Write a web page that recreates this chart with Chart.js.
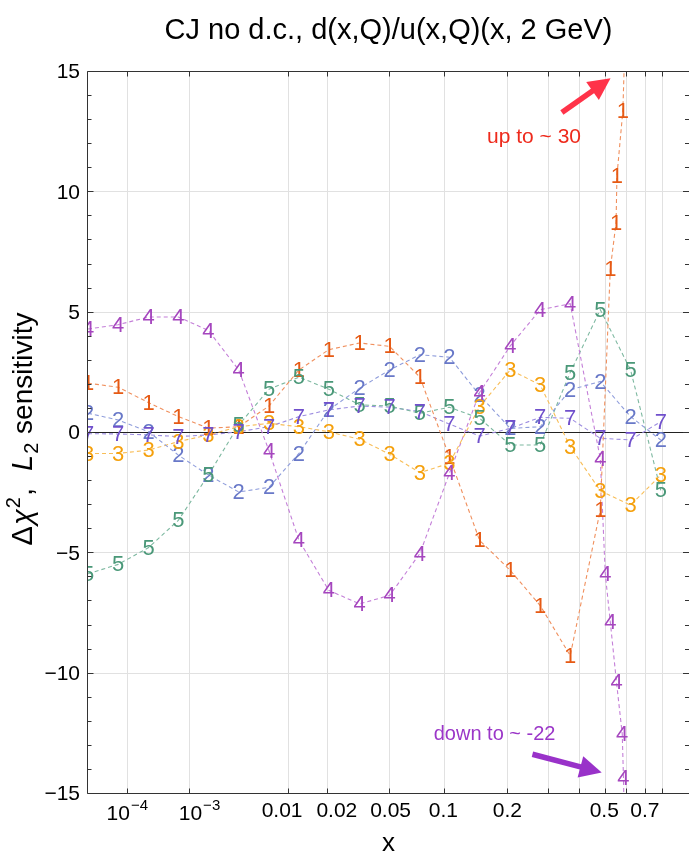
<!DOCTYPE html>
<html>
<head>
<meta charset="utf-8">
<script src="https://cdn.jsdelivr.net/npm/chart.js@4.4.0/dist/chart.umd.min.js"></script>
<style>
  html, body { margin: 0; padding: 0; background: #fff; overflow: hidden; }
</style>
</head>
<body>
<canvas id="miGrafica" width="689" height="853"></canvas>
<script>
// ---- datos ----
var titulo = 'CJ no d.c., d(x,Q)/u(x,Q)(x, 2 GeV)';

// puntos x del barrido (comunes a todas las curvas)
var xScan = [1e-5, 6.4e-5, 2.5e-4, 7.1e-4, 1.7e-3, 3.6e-3, 6.9e-3, 0.0122, 0.0203, 0.0327,
             0.05, 0.0742, 0.106, 0.149, 0.206, 0.277, 0.367, 0.479, 0.618, 0.787];
// puntos extra cerca de x~0.5 de las curvas 1 y 4
var xExtra1 = [0.522, 0.548, 0.552, 0.58, 0.64];
var xExtra4 = [0.5, 0.522, 0.55, 0.577, 0.583, 0.6];

var s1 = [2.05, 1.88, 1.24, 0.66, 0.18, 0.24, 1.10, 2.60, 3.44, 3.72, 3.58, 2.30, -1.01, -4.48, -5.73, -7.19, -9.27, -3.23,
          6.8, 8.72, 10.66, 13.37, 30];
var s2 = [0.80, 0.52, 0.03, -0.94, -1.77, -2.47, -2.28, -0.87, 0.94, 1.84, 2.60, 3.23, 3.13, 1.55, 0.17, 0.24, 1.77, 2.12, 0.66, -0.31];
var s3 = [-0.87, -0.87, -0.73, -0.38, -0.10, 0.24, 0.38, 0.24, 0.03, -0.28, -0.90, -1.67, -1.28, 1.08, 2.60, 1.98, -0.59, -2.42, -3.02, -1.77];
var s4 = [4.30, 4.48, 4.80, 4.80, 4.24, 2.60, -0.76, -4.48, -6.56, -7.12, -6.77, -5.03, -1.70, 1.66, 3.60, 5.10, 5.35, -1.08,
          -5.87, -7.88, -10.38, -12.53, -14.37, -22];
var s5 = [-5.87, -5.48, -4.78, -3.65, -1.77, 0.31, 1.80, 2.30, 1.80, 1.15, 1.10, 0.80, 1.05, 0.59, -0.52, -0.52, 2.49, 5.10, 2.60, -2.40];
var s7 = [-0.05, -0.06, -0.10, -0.17, -0.10, 0.03, 0.24, 0.66, 0.94, 1.10, 1.05, 0.87, 0.35, -0.15, 0.17, 0.63, 0.59, -0.24, -0.31, 0.45];

var x1 = xScan.slice(0, 18).concat(xExtra1);
var x4 = xScan.slice(0, 18).concat(xExtra4);

// ejes
var xTicks = [1e-4, 1e-3, 0.01, 0.02, 0.05, 0.1, 0.2, 0.3, 0.4, 0.5, 0.6, 0.7, 0.8];
var xTickLabels = ['10^-4', '10^-3', '0.01', '0.02', '0.05', '0.1', '0.2', '', '', '0.5', '', '0.7', ''];
var xLabelShift = [0, 10, -6, 9, 1, -1, 0, 0, 0, -1, 0, -1, 0];   // la figura separa 0.01 / 0.02
var yTicks = [-15, -10, -5, 0, 5, 10, 15];
var yTickLabels = ['\u221215', '\u221210', '\u22125', '0', '5', '10', '15'];

// anotaciones (en unidades de datos)
var notaArriba = { texto: 'up to ~ 30', x: 0.261, y: 12.25, desdeX: 0.340, desdeY: 13.3, hastaX: 0.523, hastaY: 14.72 };
var notaAbajo = { texto: 'down to ~ -22', x: 0.175, y: -12.56, desdeX: 0.257, desdeY: -13.37, hastaX: 0.485, hastaY: -14.13 };

// eje x en escala x^0.2
var POT = 0.2;
function tx(v) { return Math.pow(v, POT); }
function puntos(xs, ys) { return xs.map(function (x, i) { return { x: tx(x), y: ys[i] }; }); }

var FUENTE = '"Liberation Sans", Arial, Helvetica, sans-serif';

function serie(nombre, xs, ys, texto, linea) {
  return {
    label: nombre,
    data: puntos(xs, ys),
    borderColor: linea,
    textColor: texto,
    borderWidth: 1.1,
    borderDash: [4, 3],
    pointRadius: 0,
    fill: false,
    tension: 0
  };
}

// numeros de cada curva encima de sus puntos
var etiquetas = {
  id: 'etiquetas',
  afterDatasetsDraw: function (chart) {
    var c = chart.ctx, a = chart.chartArea;
    c.save();
    c.beginPath();
    c.rect(a.left, a.top, a.right - a.left, a.bottom - a.top);
    c.clip();
    c.font = '22px ' + FUENTE;
    c.textAlign = 'center';
    c.textBaseline = 'middle';
    chart.data.datasets.forEach(function (ds, i) {
      var meta = chart.getDatasetMeta(i);
      c.fillStyle = ds.textColor;
      meta.data.forEach(function (p) { c.fillText(ds.label, p.x, p.y + 1); });
    });
    c.restore();
  }
};

function flecha(c, x0, y0, x1, y1, color) {
  var ang = Math.atan2(y1 - y0, x1 - x0);
  var largo = 22, medio = 11;
  var bx = x1 - largo * Math.cos(ang), by = y1 - largo * Math.sin(ang);
  c.save();
  c.strokeStyle = color;
  c.fillStyle = color;
  c.lineWidth = 5.5;
  c.beginPath();
  c.moveTo(x0, y0);
  c.lineTo(bx + 2 * Math.cos(ang), by + 2 * Math.sin(ang));
  c.stroke();
  c.beginPath();
  c.moveTo(x1, y1);
  c.lineTo(bx + medio * Math.sin(ang), by - medio * Math.cos(ang));
  c.lineTo(bx - medio * Math.sin(ang), by + medio * Math.cos(ang));
  c.closePath();
  c.fill();
  c.restore();
}

var ejes = {
  id: 'ejes',
  beforeDatasetsDraw: function (chart) {
    var c = chart.ctx, a = chart.chartArea, ys = chart.scales.y;
    var y0 = Math.floor(ys.getPixelForValue(0)) + 0.5;
    c.save();
    c.strokeStyle = '#222';
    c.lineWidth = 1;
    c.beginPath();
    c.moveTo(a.left, y0);
    c.lineTo(a.right, y0);
    c.stroke();
    c.restore();
  },
  afterDraw: function (chart) {
    var c = chart.ctx, a = chart.chartArea, xs = chart.scales.x, ys = chart.scales.y;
    c.save();
    // marco
    c.strokeStyle = '#333';
    c.lineWidth = 1;
    var L = Math.floor(a.left) - 0.5, T = Math.floor(a.top) + 0.5, B = Math.floor(a.bottom) + 0.5, R = a.right;
    c.beginPath();
    c.moveTo(L, T); c.lineTo(R + 2, T);
    c.moveTo(L, B); c.lineTo(R + 2, B);
    c.moveTo(L, T); c.lineTo(L, B);
    c.stroke();
    // marcas x arriba y abajo
    c.beginPath();
    xTicks.forEach(function (v) {
      var p = Math.round(xs.getPixelForValue(tx(v)) - 0.5) + 0.5;
      c.moveTo(p, T); c.lineTo(p, T + 5);
      c.moveTo(p, B); c.lineTo(p, B - 5);
    });
    // marcas y izquierda y derecha
    for (var v = -15; v <= 15; v++) {
      var p = Math.round(ys.getPixelForValue(v) - 0.5) + 0.5;
      var l = (v % 5 === 0) ? 6 : 4;
      c.moveTo(L, p); c.lineTo(L + l, p);
      c.moveTo(R, p); c.lineTo(R - l, p);
    }
    c.stroke();

    // etiquetas eje y
    c.fillStyle = '#000';
    c.font = '21px ' + FUENTE;
    c.textAlign = 'right';
    c.textBaseline = 'middle';
    yTicks.forEach(function (v, i) {
      c.fillText(yTickLabels[i], 80, ys.getPixelForValue(v) + 1);
    });

    // etiquetas eje x
    xTicks.forEach(function (v, i) {
      var lab = xTickLabels[i];
      if (!lab) return;
      var p = xs.getPixelForValue(tx(v)) + xLabelShift[i];
      c.textBaseline = 'alphabetic';
      if (lab.indexOf('^') > 0) {
        var base = lab.split('^')[0], exp = lab.split('^')[1].replace('-', '\u2212');
        c.font = '21px ' + FUENTE;
        var w1 = c.measureText(base).width;
        c.font = '15px ' + FUENTE;
        var w2 = c.measureText(exp).width;
        var x0 = p - (w1 + w2 + 1) / 2;
        c.textAlign = 'left';
        c.font = '21px ' + FUENTE;
        c.fillText(base, x0, 820);
        c.font = '15px ' + FUENTE;
        c.fillText(exp, x0 + w1 + 1, 810);
      } else {
        c.textAlign = 'center';
        c.font = '21px ' + FUENTE;
        c.fillText(lab, p, 817);
      }
    });

    // titulo eje x
    c.font = '26px ' + FUENTE;
    c.textAlign = 'center';
    c.textBaseline = 'alphabetic';
    c.fillText('x', (a.left + a.right) / 2, 851);

    // titulo eje y (rotado)
    var trozos = [
      { t: '\u0394', f: '29px ' + FUENTE, dy: 0 },
      { t: '\u03C7', f: 'italic 29px ' + FUENTE, dy: 0 },
      { t: '2', f: '20px ' + FUENTE, dy: -12 },
      { t: ',  ', f: '29px ' + FUENTE, dy: 0 },
      { t: 'L', f: 'italic 29px ' + FUENTE, dy: 0 },
      { t: '2', f: '20px ' + FUENTE, dy: 6 },
      { t: ' sensitivity', f: '28px ' + FUENTE, dy: 0 }
    ];
    var total = 0;
    trozos.forEach(function (tr) { c.font = tr.f; tr.w = c.measureText(tr.t).width + 1; total += tr.w; });
    c.save();
    c.translate(32, (a.top + a.bottom) / 2 - 4);
    c.rotate(-Math.PI / 2);
    c.textAlign = 'left';
    var pos = -total / 2;
    trozos.forEach(function (tr) {
      c.font = tr.f;
      c.fillText(tr.t, pos, tr.dy);
      pos += tr.w;
    });
    c.restore();

    // titulo
    c.font = '29px ' + FUENTE;
    c.textAlign = 'center';
    c.fillText(titulo, (a.left + a.right) / 2, 39);

    // anotaciones
    c.font = '21px ' + FUENTE;
    c.textBaseline = 'middle';
    c.fillStyle = '#EE2A1C';
    c.fillText(notaArriba.texto, xs.getPixelForValue(tx(notaArriba.x)), ys.getPixelForValue(notaArriba.y));
    flecha(c, xs.getPixelForValue(tx(notaArriba.desdeX)), ys.getPixelForValue(notaArriba.desdeY),
           xs.getPixelForValue(tx(notaArriba.hastaX)), ys.getPixelForValue(notaArriba.hastaY), '#FF3349');
    c.font = '20px ' + FUENTE;
    c.fillStyle = '#9B36C8';
    c.fillText(notaAbajo.texto, xs.getPixelForValue(tx(notaAbajo.x)), ys.getPixelForValue(notaAbajo.y));
    flecha(c, xs.getPixelForValue(tx(notaAbajo.desdeX)), ys.getPixelForValue(notaAbajo.desdeY),
           xs.getPixelForValue(tx(notaAbajo.hastaX)), ys.getPixelForValue(notaAbajo.hastaY), '#9932C9');
    c.restore();
  }
};

var ctx = document.getElementById('miGrafica').getContext('2d');
var chart = new Chart(ctx, {
  type: 'line',
  data: {
    datasets: [
      serie('1', x1, s1, '#E65A14', '#F0905E'),
      serie('2', xScan, s2, '#6878C8', '#8E9CDB'),
      serie('3', xScan, s3, '#F5A00C', '#F8BE58'),
      serie('4', x4, s4, '#A546BE', '#C47FD8'),
      serie('5', xScan, s5, '#4A9878', '#7DB8A0'),
      serie('7', xScan, s7, '#7050CC', '#9C8CE0')
    ]
  },
  options: {
    responsive: false,
    animation: false,
    events: [],
    layout: { padding: { left: 0, right: 0, top: 71.5, bottom: 0 } },
    plugins: { legend: { display: false }, tooltip: { enabled: false }, title: { display: false } },
    scales: {
      x: {
        type: 'linear',
        min: tx(1e-5),
        max: 0.9953,
        afterBuildTicks: function (s) { s.ticks = xTicks.map(function (v) { return { value: tx(v) }; }); },
        afterFit: function (s) { s.height = 59.5; },
        ticks: { display: false },
        grid: { color: '#e1e1e1', lineWidth: 1, drawTicks: false },
        border: { display: false }
      },
      y: {
        type: 'linear',
        min: -15,
        max: 15,
        afterBuildTicks: function (s) { s.ticks = yTicks.map(function (v) { return { value: v }; }); },
        afterFit: function (s) { s.width = 88; },
        ticks: { display: false },
        grid: { color: '#e1e1e1', lineWidth: 1, drawTicks: false },
        border: { display: false }
      }
    }
  },
  plugins: [ejes, etiquetas]
});
</script>
</body>
</html>
